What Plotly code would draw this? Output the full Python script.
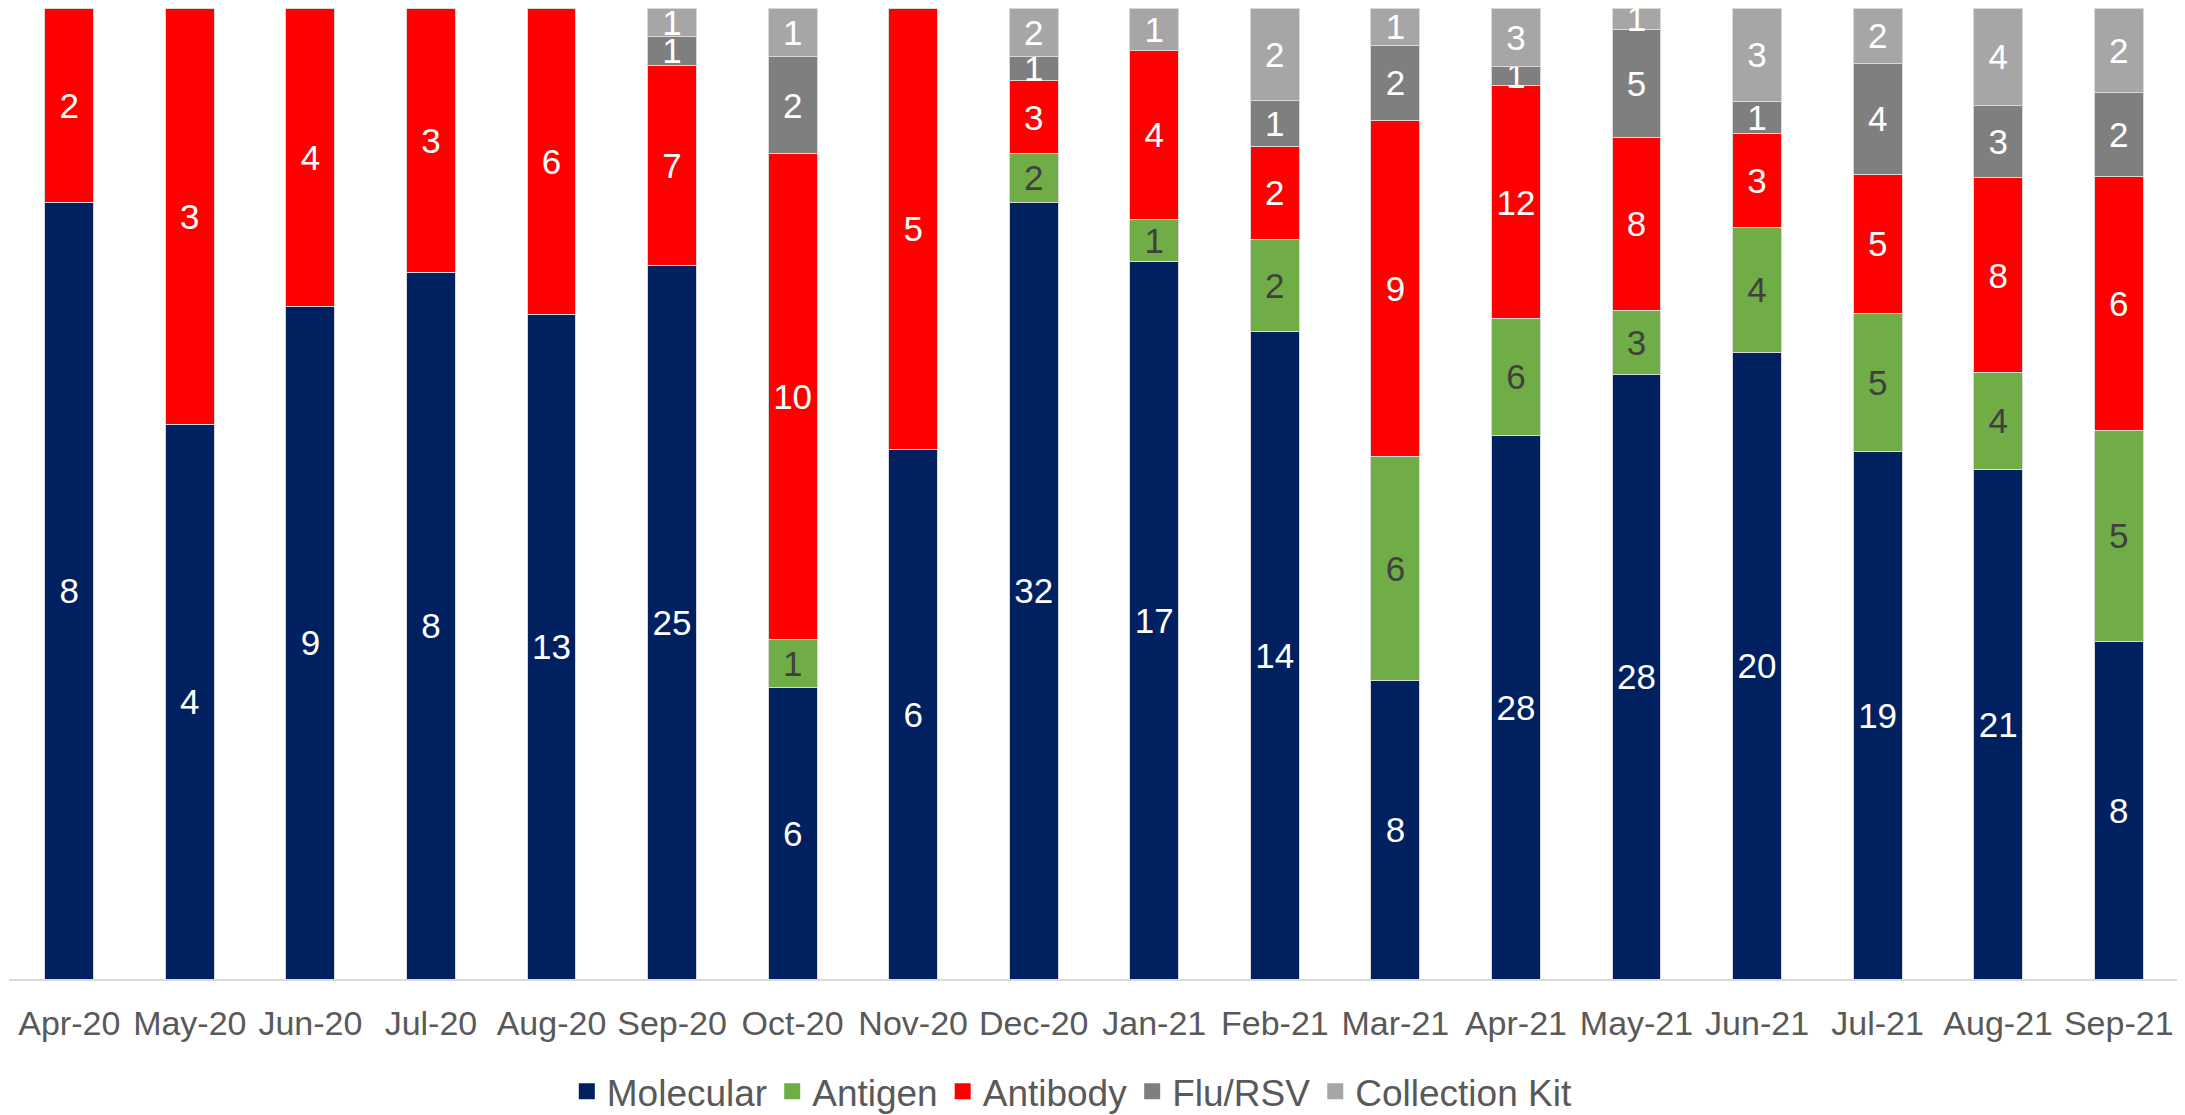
import plotly.graph_objects as go

months = ["Apr-20", "May-20", "Jun-20", "Jul-20", "Aug-20", "Sep-20", "Oct-20", "Nov-20", "Dec-20",
          "Jan-21", "Feb-21", "Mar-21", "Apr-21", "May-21", "Jun-21", "Jul-21", "Aug-21", "Sep-21"]
molecular = [8, 4, 9, 8, 13, 25, 6, 6, 32, 17, 14, 8, 28, 28, 20, 19, 21, 8]
antigen = [0, 0, 0, 0, 0, 0, 1, 0, 2, 1, 2, 6, 6, 3, 4, 5, 4, 5]
antibody = [2, 3, 4, 3, 6, 7, 10, 5, 3, 4, 2, 9, 12, 8, 3, 5, 8, 6]
flu_rsv = [0, 0, 0, 0, 0, 1, 2, 0, 1, 0, 1, 2, 1, 5, 1, 4, 3, 2]
collection_kit = [0, 0, 0, 0, 0, 1, 1, 0, 2, 1, 2, 1, 3, 1, 3, 2, 4, 2]

series = [
    ("Molecular", molecular, "#002060", "white"),
    ("Antigen", antigen, "#70AD47", "#404040"),
    ("Antibody", antibody, "#FF0000", "white"),
    ("Flu/RSV", flu_rsv, "#7F7F7F", "white"),
    ("Collection Kit", collection_kit, "#A6A6A6", "white"),
]

FONT = "Liberation Sans, Arial, sans-serif"

fig = go.Figure()
for name, vals, color, tcolor in series:
    fig.add_trace(go.Bar(
        x=months, y=vals, name=name,
        marker=dict(color=color, line=dict(color="#D9D9D9", width=1)),
        text=[str(v) if v else "" for v in vals],
        textposition="inside", insidetextanchor="middle", textangle=0,
        textfont=dict(color=tcolor, size=35, family=FONT),
        showlegend=False,
    ))
    # square legend markers
    fig.add_trace(go.Scatter(
        x=[None], y=[None], mode="markers", name=name,
        marker=dict(symbol="square", size=22, color=color),
    ))

# page body has an 8px margin, so the figure is a bit smaller than the window
fig.update_layout(
    width=2177, height=1107,
    barmode="stack", barnorm="percent", bargap=0.595,
    plot_bgcolor="white", paper_bgcolor="white",
    margin=dict(l=1, r=6, t=0, b=136, autoexpand=False),
    uniformtext=dict(minsize=35, mode="show"),
    font=dict(family=FONT, color="#595959"),
    xaxis=dict(showline=True, linecolor="#D9D9D9", linewidth=2, ticks="", tickangle=0,
               ticklabelstandoff=13, automargin=False,
               tickfont=dict(size=34, color="#595959", family=FONT)),
    yaxis=dict(range=[0, 100], visible=False),
    legend=dict(orientation="h", x=0.49, xanchor="center", y=-0.116, yanchor="middle",
                traceorder="normal",
                font=dict(size=37, color="#595959", family=FONT),
                itemwidth=30, tracegroupgap=0),
)

fig.write_html("out.html")
